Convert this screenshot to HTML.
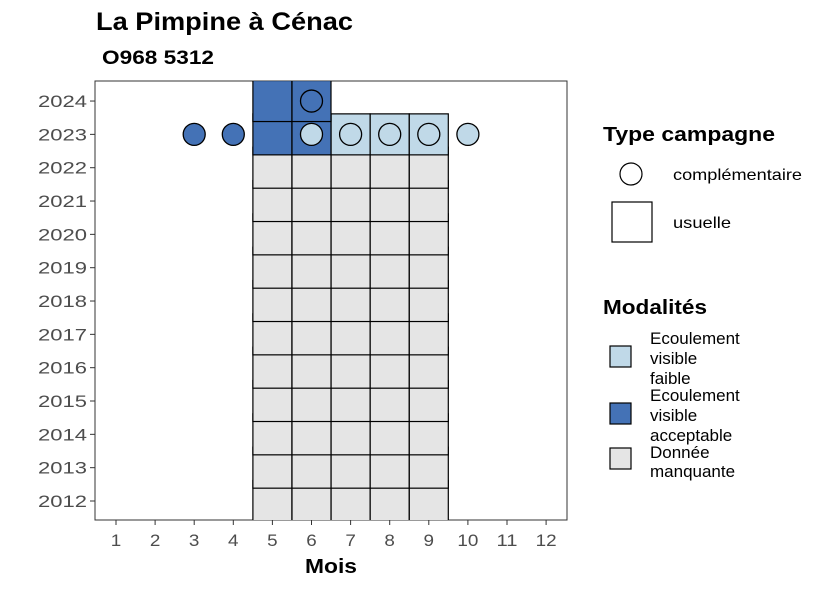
<!DOCTYPE html>
<html><head><meta charset="utf-8"><style>
body{margin:0;background:#fff}
svg text{font-family:"Liberation Sans",sans-serif}
</style></head><body>
<svg id="chart" width="826" height="590" xmlns="http://www.w3.org/2000/svg">
<text x="96" y="30" font-size="25" font-weight="bold" textLength="257" lengthAdjust="spacingAndGlyphs">La Pimpine à Cénac</text>
<text x="102" y="64" font-size="19" font-weight="bold" textLength="112" lengthAdjust="spacingAndGlyphs">O968 5312</text>
<rect x="95" y="81" width="472" height="439" fill="#fff" stroke="#333" stroke-width="1"/>
<defs><clipPath id="clip"><rect x="95" y="81" width="472" height="439"/></clipPath></defs>
<g id="squares" clip-path="url(#clip)"></g>
<g id="circles" clip-path="url(#clip)"></g>
<g id="axes"></g>
<text x="305" y="573" font-size="20" font-weight="bold" textLength="52" lengthAdjust="spacingAndGlyphs">Mois</text>
<g>
<text x="603" y="141" font-size="20" font-weight="bold" textLength="172" lengthAdjust="spacingAndGlyphs">Type campagne</text>
<circle cx="631" cy="174" r="11" fill="#fff" stroke="#000" stroke-width="1.2"/>
<text x="673" y="180" font-size="16" textLength="129" lengthAdjust="spacingAndGlyphs">complémentaire</text>
<rect x="612" y="202" width="40" height="40" fill="#fff" stroke="#000" stroke-width="1.2"/>
<text x="673" y="228" font-size="16" textLength="58" lengthAdjust="spacingAndGlyphs">usuelle</text>
</g>
<g font-size="17">
<text x="603" y="314" font-size="20" font-weight="bold" textLength="104" lengthAdjust="spacingAndGlyphs">Modalités</text>
<rect x="610" y="346" width="21" height="21" fill="#c0d9e8" stroke="#000" stroke-width="1.2"/>
<text x="650" y="344">Ecoulement</text><text x="650" y="364">visible</text><text x="650" y="384">faible</text>
<rect x="610" y="403" width="21" height="21" fill="#4472b6" stroke="#000" stroke-width="1.2"/>
<text x="650" y="401">Ecoulement</text><text x="650" y="421">visible</text><text x="650" y="441">acceptable</text>
<rect x="610" y="448" width="21" height="21" fill="#e5e5e5" stroke="#000" stroke-width="1.2"/>
<text x="650" y="458">Donnée</text><text x="650" y="477">manquante</text>
</g>
</svg>
<script>
const months=[1,2,3,4,5,6,7,8,9,10,11,12];
const years=[2012,2013,2014,2015,2016,2017,2018,2019,2020,2021,2022,2023,2024];
const sqYears=[2012,2012,2012,2012,2012,2013,2013,2013,2013,2013,2014,2014,2014,2014,2014,2015,2015,2015,2015,2015,2016,2016,2016,2016,2016,2017,2017,2017,2017,2017,2018,2018,2018,2018,2018,2019,2019,2019,2019,2019,2020,2020,2020,2020,2020,2021,2021,2021,2021,2021,2022,2022,2022,2022,2022,2023,2023,2023,2023,2023,2024,2024];
const sqMonths=[5,6,7,8,9,5,6,7,8,9,5,6,7,8,9,5,6,7,8,9,5,6,7,8,9,5,6,7,8,9,5,6,7,8,9,5,6,7,8,9,5,6,7,8,9,5,6,7,8,9,5,6,7,8,9,5,6,7,8,9,5,6];
const sqMod=["M","M","M","M","M","M","M","M","M","M","M","M","M","M","M","M","M","M","M","M","M","M","M","M","M","M","M","M","M","M","M","M","M","M","M","M","M","M","M","M","M","M","M","M","M","M","M","M","M","M","M","M","M","M","M","A","A","F","F","F","A","A"];
const ciYears=[2023,2023,2023,2023,2023,2023,2023,2024];
const ciMonths=[3,4,6,7,8,9,10,6];
const ciMod=["A","A","F","F","F","F","F","A"];
const colors={F:"#c0d9e8",A:"#4472b6",M:"#e5e5e5"};
const NS="http://www.w3.org/2000/svg";
const x=m=>116+(m-1)*39.1;
const y=yr=>501-(yr-2012)*33.33;
function mk(tag,attrs,parent){const e=document.createElementNS(NS,tag);for(const k in attrs)e.setAttribute(k,attrs[k]);parent.appendChild(e);return e;}
const sq=document.getElementById('squares');
for(let i=0;i<sqYears.length;i++){
 const r=mk('rect',{x:x(sqMonths[i])-19.5,y:y(sqYears[i])-20.5,width:39,height:41,fill:colors[sqMod[i]],stroke:"#000","stroke-width":1.2},sq);
 
 
}
const ci=document.getElementById('circles');
for(let i=0;i<ciYears.length;i++){
 const c=mk('circle',{cx:x(ciMonths[i]),cy:y(ciYears[i]),r:11,fill:colors[ciMod[i]],stroke:"#000","stroke-width":1.3},ci);
 
 
}
const ax=document.getElementById('axes');
months.forEach(m=>{
 mk('line',{x1:x(m),x2:x(m),y1:520,y2:525,stroke:"#333"},ax);
 const s=String(m);
 const t=mk('text',{x:x(m),y:546,"font-size":17,fill:"#4d4d4d","text-anchor":"middle",textLength:s.length*10.5,lengthAdjust:"spacingAndGlyphs"},ax);
 t.textContent=s;
 
 
});
years.forEach(yr=>{
 mk('line',{x1:90,x2:95,y1:y(yr),y2:y(yr),stroke:"#333"},ax);
 const t=mk('text',{x:87,y:y(yr)+6,"font-size":17,fill:"#4d4d4d","text-anchor":"end",textLength:49,lengthAdjust:"spacingAndGlyphs"},ax);
 t.textContent=yr;
 
 
});
</script>
</body></html>
